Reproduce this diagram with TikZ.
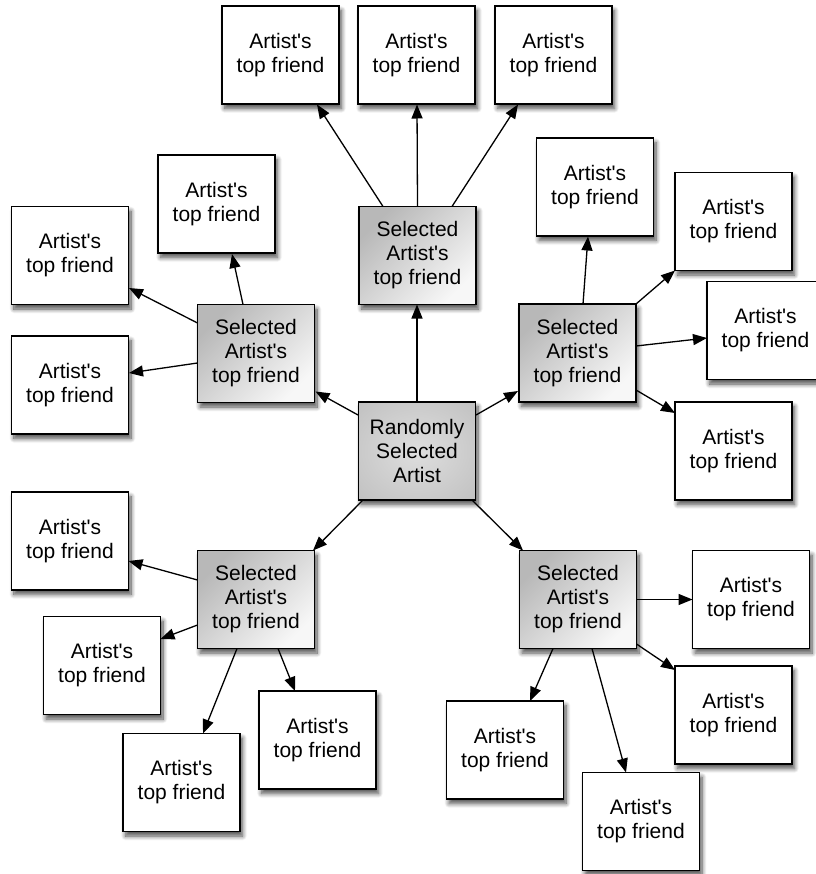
\documentclass[tikz,border=0pt]{standalone}
\usepackage{fontspec}
\setmainfont{Liberation Sans}
\usetikzlibrary{arrows.meta,shadows.blur}
\newcommand\ap{\textquotesingle}
\pgfdeclareradialshading{rootshade}{\pgfpoint{0bp}{0bp}}{color(0bp)=(black!13); color(50bp)=(black!29); color(72bp)=(black!36)}
\tikzset{
  box/.style={draw=black, line width=1.5pt, minimum width=117pt, minimum height=98pt,
    inner sep=0pt, align=center, font=\fontsize{21}{24}\selectfont,
    blur shadow={shadow xshift=2.5pt, shadow yshift=-4.5pt, shadow blur radius=4.5pt, shadow blur steps=10, shadow opacity=70}},
  friend/.style={box, fill=white},
  selbox/.style={box, shading=axis, top color=black!28, bottom color=black!3, shading angle=45},
  rootbox/.style={box, shading=rootshade},
  link/.style={line width=1.3pt, -{Triangle[length=14pt,width=11pt]}}
}
\begin{document}
\begin{tikzpicture}[x=1pt,y=-1pt]
\useasboundingbox (0,0) rectangle (815,874);
% friends
\node[friend] (A1) at (280.5,55) {Artist\ap s\\top friend};
\node[friend] (A2) at (416.5,55) {Artist\ap s\\top friend};
\node[friend] (A3) at (553.5,55) {Artist\ap s\\top friend};
\node[friend] (B1) at (216.5,204) {Artist\ap s\\top friend};
\node[friend] (B2) at (70,255.5) {Artist\ap s\\top friend};
\node[friend] (B3) at (70,385) {Artist\ap s\\top friend};
\node[friend] (C1) at (595,187) {Artist\ap s\\top friend};
\node[friend] (C2) at (733.5,221.5) {Artist\ap s\\top friend};
\node[friend] (C3) at (765.5,330.5) {Artist\ap s\\top friend};
\node[friend] (C4) at (733.5,451) {Artist\ap s\\top friend};
\node[friend] (D1) at (70,541) {Artist\ap s\\top friend};
\node[friend] (D2) at (102,665.5) {Artist\ap s\\top friend};
\node[friend] (D3) at (181.5,782.5) {Artist\ap s\\top friend};
\node[friend] (D4) at (317.5,740) {Artist\ap s\\top friend};
\node[friend] (E1) at (751,599.5) {Artist\ap s\\top friend};
\node[friend] (E2) at (733.5,715) {Artist\ap s\\top friend};
\node[friend] (E3) at (505,750) {Artist\ap s\\top friend};
\node[friend] (E4) at (641,821.5) {Artist\ap s\\top friend};
% selected
\node[selbox] (S1) at (417.5,255.5) {Selected\\Artist\ap s\\top friend};
\node[selbox] (S2) at (256,353.5) {Selected\\Artist\ap s\\top friend};
\node[selbox] (S3) at (577.5,353) {Selected\\Artist\ap s\\top friend};
\node[selbox] (S4) at (256,599.5) {Selected\\Artist\ap s\\top friend};
\node[selbox] (S5) at (578,599.5) {Selected\\Artist\ap s\\top friend};
% root
\node[rootbox] (R) at (417,451) {Randomly\\Selected\\Artist};
% connectors
\draw[link] ([shift={(-34.5,-49)}]S1.center) -- ([shift={(36.5,49.5)}]A1.center);
\draw[link] ([shift={(0,-49)}]S1.center) -- ([shift={(0.5,49.5)}]A2.center);
\draw[link] ([shift={(34.5,-49)}]S1.center) -- ([shift={(-35.5,49.5)}]A3.center);

\draw[link] ([shift={(0,-49)}]R.center) -- ([shift={(-0.5,49)}]S1.center);
\draw[link] ([shift={(-59,-36)}]R.center) -- ([shift={(59.5,38)}]S2.center);
\draw[link] ([shift={(59,-36)}]R.center) -- ([shift={(-59.5,38)}]S3.center);
\draw[link] ([shift={(-54,49)}]R.center) -- ([shift={(57,-49)}]S4.center);
\draw[link] ([shift={(55,49)}]R.center) -- ([shift={(-55,-49)}]S5.center);

\draw[link] ([shift={(-13,-49)}]S2.center) -- ([shift={(15.5,50)}]B1.center);
\draw[link] ([shift={(-58.5,-30.5)}]S2.center) -- ([shift={(59,32.5)}]B2.center);
\draw[link] ([shift={(-58.5,9.5)}]S2.center) -- ([shift={(59,-12)}]B3.center);

\draw[link] ([shift={(5.5,-49)}]S3.center) -- ([shift={(-7,49.5)}]C1.center);
\draw[link] ([shift={(58.5,-49)}]S3.center) -- ([shift={(-58.5,49)}]C2.center);
\draw[link] ([shift={(58.5,-7)}]S3.center) -- ([shift={(-58.5,7.5)}]C3.center);
\draw[link] ([shift={(58.5,37)}]S3.center) -- ([shift={(-58.5,-38)}]C4.center);

\draw[link] ([shift={(-58.5,-19.5)}]S4.center) -- ([shift={(58.5,20)}]D1.center);
\draw[link] ([shift={(-58.5,25.5)}]S4.center) -- ([shift={(58.5,-26.5)}]D2.center);
\draw[link] ([shift={(-19,49)}]S4.center) -- ([shift={(21.5,-49)}]D3.center);
\draw[link] ([shift={(22,49)}]S4.center) -- ([shift={(-22.5,-49)}]D4.center);

\draw[link] ([shift={(58.5,0)}]S5.center) -- ([shift={(-58.5,0)}]E1.center);
\draw[link] ([shift={(58.5,44.5)}]S5.center) -- ([shift={(-58.5,-45)}]E2.center);
\draw[link] ([shift={(-25,49)}]S5.center) -- ([shift={(25,-49)}]E3.center);
\draw[link] ([shift={(14,49)}]S5.center) -- ([shift={(-15,-49)}]E4.center);
\end{tikzpicture}
\end{document}
